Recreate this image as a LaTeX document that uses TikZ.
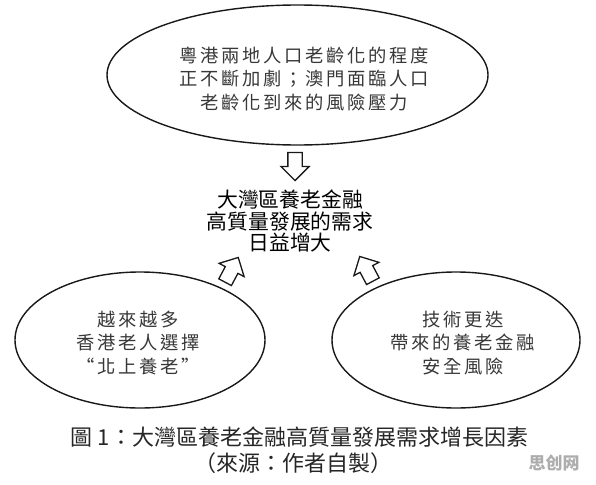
\documentclass[tikz,border=0pt]{standalone}
\usepackage{fontspec}
\newfontfamily\cjk{Noto Sans CJK TC}
\newfontfamily\cjklt[LetterSpace=15]{Noto Sans CJK TC}
\usetikzlibrary{shapes.geometric,shapes.arrows}
\begin{document}
\begin{tikzpicture}[x=1pt,y=-1pt,
  oval/.style={draw=black!90, line width=1.4pt, ellipse, inner sep=0pt},
  blockarrow/.style={draw=black!90, line width=1.3pt, single arrow, single arrow head extend=7pt,
    inner xsep=0pt, inner ysep=6.5pt, minimum height=28pt},
  ovaltext/.style={align=center, text=black!78, font=\cjklt\fontsize{18.3}{23.5}\selectfont},
  maintext/.style={align=center, text=black, font=\cjk\fontsize{20.8}{21.5}\selectfont},
  captext/.style={text=black!85, font=\cjk\fontsize{22}{26}\selectfont},
  wmark/.style={text=black!32, font=\cjk\bfseries\fontsize{17}{20}\selectfont}
]
\useasboundingbox (0,0) rectangle (596,484);
\fill[white] (0,0) rectangle (596,484);

% ellipses
\node[oval, minimum width=381pt, minimum height=140pt] (top) at (297.5,75) {};
\node[oval, minimum width=250pt, minimum height=136pt] (left) at (140,340) {};
\node[oval, minimum width=248pt, minimum height=136pt] (right) at (456,340) {};

% ellipse texts
\node[ovaltext] (toptext) at (304,79) {粵港兩地人口老齡化的程度\\正不斷加劇；澳門面臨人口\\老齡化到來的風險壓力};
\node[ovaltext] (lefttext) at (138,343) {越來越多\\香港老人選擇\\“北上養老”};
\node[ovaltext] (righttext) at (463,343) {技術更迭\\帶來的養老金融\\安全風險};

% centre text
\node[maintext] (centre) at (290,221) {大灣區養老金融\\高質量發展的需求\\日益增大};

% block arrows
\node[blockarrow, rotate=-90] (adown) at (295,163) {};
\node[blockarrow, rotate=62] (aleft) at (230,273) {};
\node[blockarrow, rotate=118] (aright) at (368,272) {};

% caption
\node[captext] (cap1) at (299.5,437) {圖 1：大灣區養老金融高質量發展需求增長因素};
\node[captext] (cap2) at (293,463) {（來源：作者自製）};

% watermark
\node[wmark] (wm) at (554,463) {思创网};
\end{tikzpicture}
\end{document}
